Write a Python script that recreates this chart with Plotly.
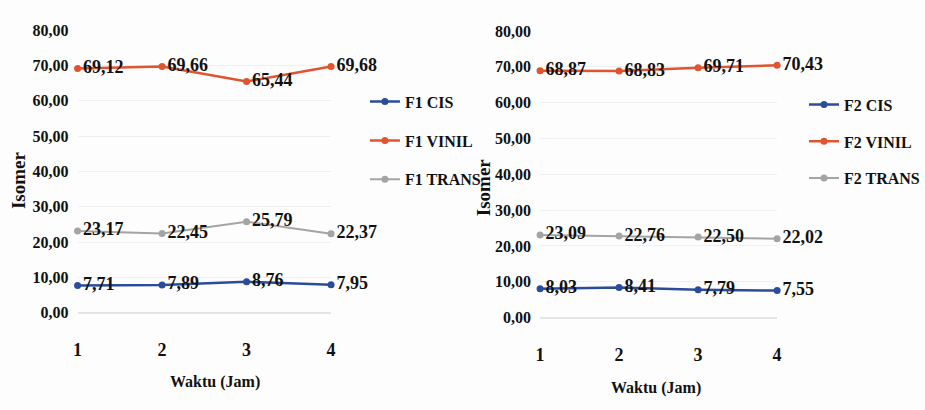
import plotly.graph_objects as go

# Waktu (Jam) on the x axis
waktu = [1, 2, 3, 4]

# Formulation F1
f1_cis = [7.71, 7.89, 8.76, 7.95]
f1_vinil = [69.12, 69.66, 65.44, 69.68]
f1_trans = [23.17, 22.45, 25.79, 22.37]

# Formulation F2
f2_cis = [8.03, 8.41, 7.79, 7.55]
f2_vinil = [68.87, 68.83, 69.71, 70.43]
f2_trans = [23.09, 22.76, 22.50, 22.02]

y_ticks = [0, 10, 20, 30, 40, 50, 60, 70, 80]
y_tick_text = ["0,00", "10,00", "20,00", "30,00", "40,00", "50,00", "60,00", "70,00", "80,00"]

COL_CIS = "#2b4c9b"
COL_VINIL = "#e0542e"
COL_TRANS = "#a4a4a4"
SERIF = "Liberation Serif"

W, H = 925, 410


def fmt(v):
    return f"{v:.2f}".replace(".", ",")


def px_x(p):
    return p / W


def px_y(p):
    return 1 - p / H


fig = go.Figure()

series = [
    ("F1", [("F1 CIS", f1_cis, COL_CIS), ("F1 VINIL", f1_vinil, COL_VINIL), ("F1 TRANS", f1_trans, COL_TRANS)], "x", "y", "legend"),
    ("F2", [("F2 CIS", f2_cis, COL_CIS), ("F2 VINIL", f2_vinil, COL_VINIL), ("F2 TRANS", f2_trans, COL_TRANS)], "x2", "y2", "legend2"),
]

for _, traces, xa, ya, leg in series:
    for name, vals, col in traces:
        fig.add_trace(go.Scatter(
            x=waktu, y=vals, name=name, mode="lines+markers+text",
            line=dict(color=col, width=2.5 if col != COL_TRANS else 2),
            marker=dict(color=col, size=7),
            text=[fmt(v) for v in vals], textposition="middle right",
            textfont=dict(family=SERIF, size=18, color="#111111", weight="bold"),
            cliponaxis=False, xaxis=xa, yaxis=ya, legend=leg,
            legendgroup=name,
        ))

axis_common_x = dict(
    range=[1, 4], tickvals=waktu, showgrid=False, zeroline=False, showline=False,
    tickfont=dict(family=SERIF, size=18, color="#111111", weight="bold"),
    ticklabelstandoff=24, fixedrange=True,
)
axis_common_y = dict(
    range=[0, 80], tickvals=y_ticks, ticktext=y_tick_text,
    showgrid=True, gridcolor="#f0f0f0", gridwidth=1,
    zeroline=True, zerolinecolor="#e4e4e4", showline=False,
    tickfont=dict(family=SERIF, size=16, color="#111111", weight="bold"),
    ticklabelstandoff=8, fixedrange=True,
)

fig.update_layout(
    width=W, height=H,
    margin=dict(l=0, r=0, t=0, b=0),
    font=dict(family=SERIF, color="#111111"),
    paper_bgcolor="#fdfdfd", plot_bgcolor="#fdfdfd",
    showlegend=True,
    xaxis=dict(domain=[px_x(75), px_x(337)], anchor="y", **axis_common_x),
    yaxis=dict(domain=[px_y(318), px_y(23)], anchor="x", **axis_common_y),
    xaxis2=dict(domain=[px_x(553), px_x(798)], anchor="y2", **axis_common_x),
    yaxis2=dict(domain=[px_y(323), px_y(24)], anchor="x2", **axis_common_y),
    legend=dict(
        x=px_x(372), y=px_y(80), xanchor="left", yanchor="top",
        bgcolor="rgba(0,0,0,0)", traceorder="grouped", tracegroupgap=15,
        font=dict(family=SERIF, size=16, color="#111111", weight="bold"),
        itemwidth=30,
    ),
    legend2=dict(
        x=px_x(826), y=px_y(83), xanchor="left", yanchor="top",
        bgcolor="rgba(0,0,0,0)", traceorder="grouped", tracegroupgap=13,
        font=dict(family=SERIF, size=16, color="#111111", weight="bold"),
        itemwidth=30,
    ),
    annotations=[
        dict(text="Waktu (Jam)", x=px_x(217), y=px_y(390), xref="paper", yref="paper",
             xanchor="center", yanchor="middle", showarrow=False,
             font=dict(family=SERIF, size=16, color="#111111", weight="bold")),
        dict(text="Waktu (Jam)", x=px_x(673), y=px_y(396), xref="paper", yref="paper",
             xanchor="center", yanchor="middle", showarrow=False,
             font=dict(family=SERIF, size=16, color="#111111", weight="bold")),
        dict(text="Isomer", x=px_x(14), y=px_y(180), xref="paper", yref="paper",
             xanchor="center", yanchor="middle", textangle=-90, showarrow=False,
             font=dict(family=SERIF, size=19, color="#111111", weight="bold")),
        dict(text="Isomer", x=px_x(494), y=px_y(187), xref="paper", yref="paper",
             xanchor="center", yanchor="middle", textangle=-90, showarrow=False,
             font=dict(family=SERIF, size=19, color="#111111", weight="bold")),
    ],
)

fig.write_html("out.html")
